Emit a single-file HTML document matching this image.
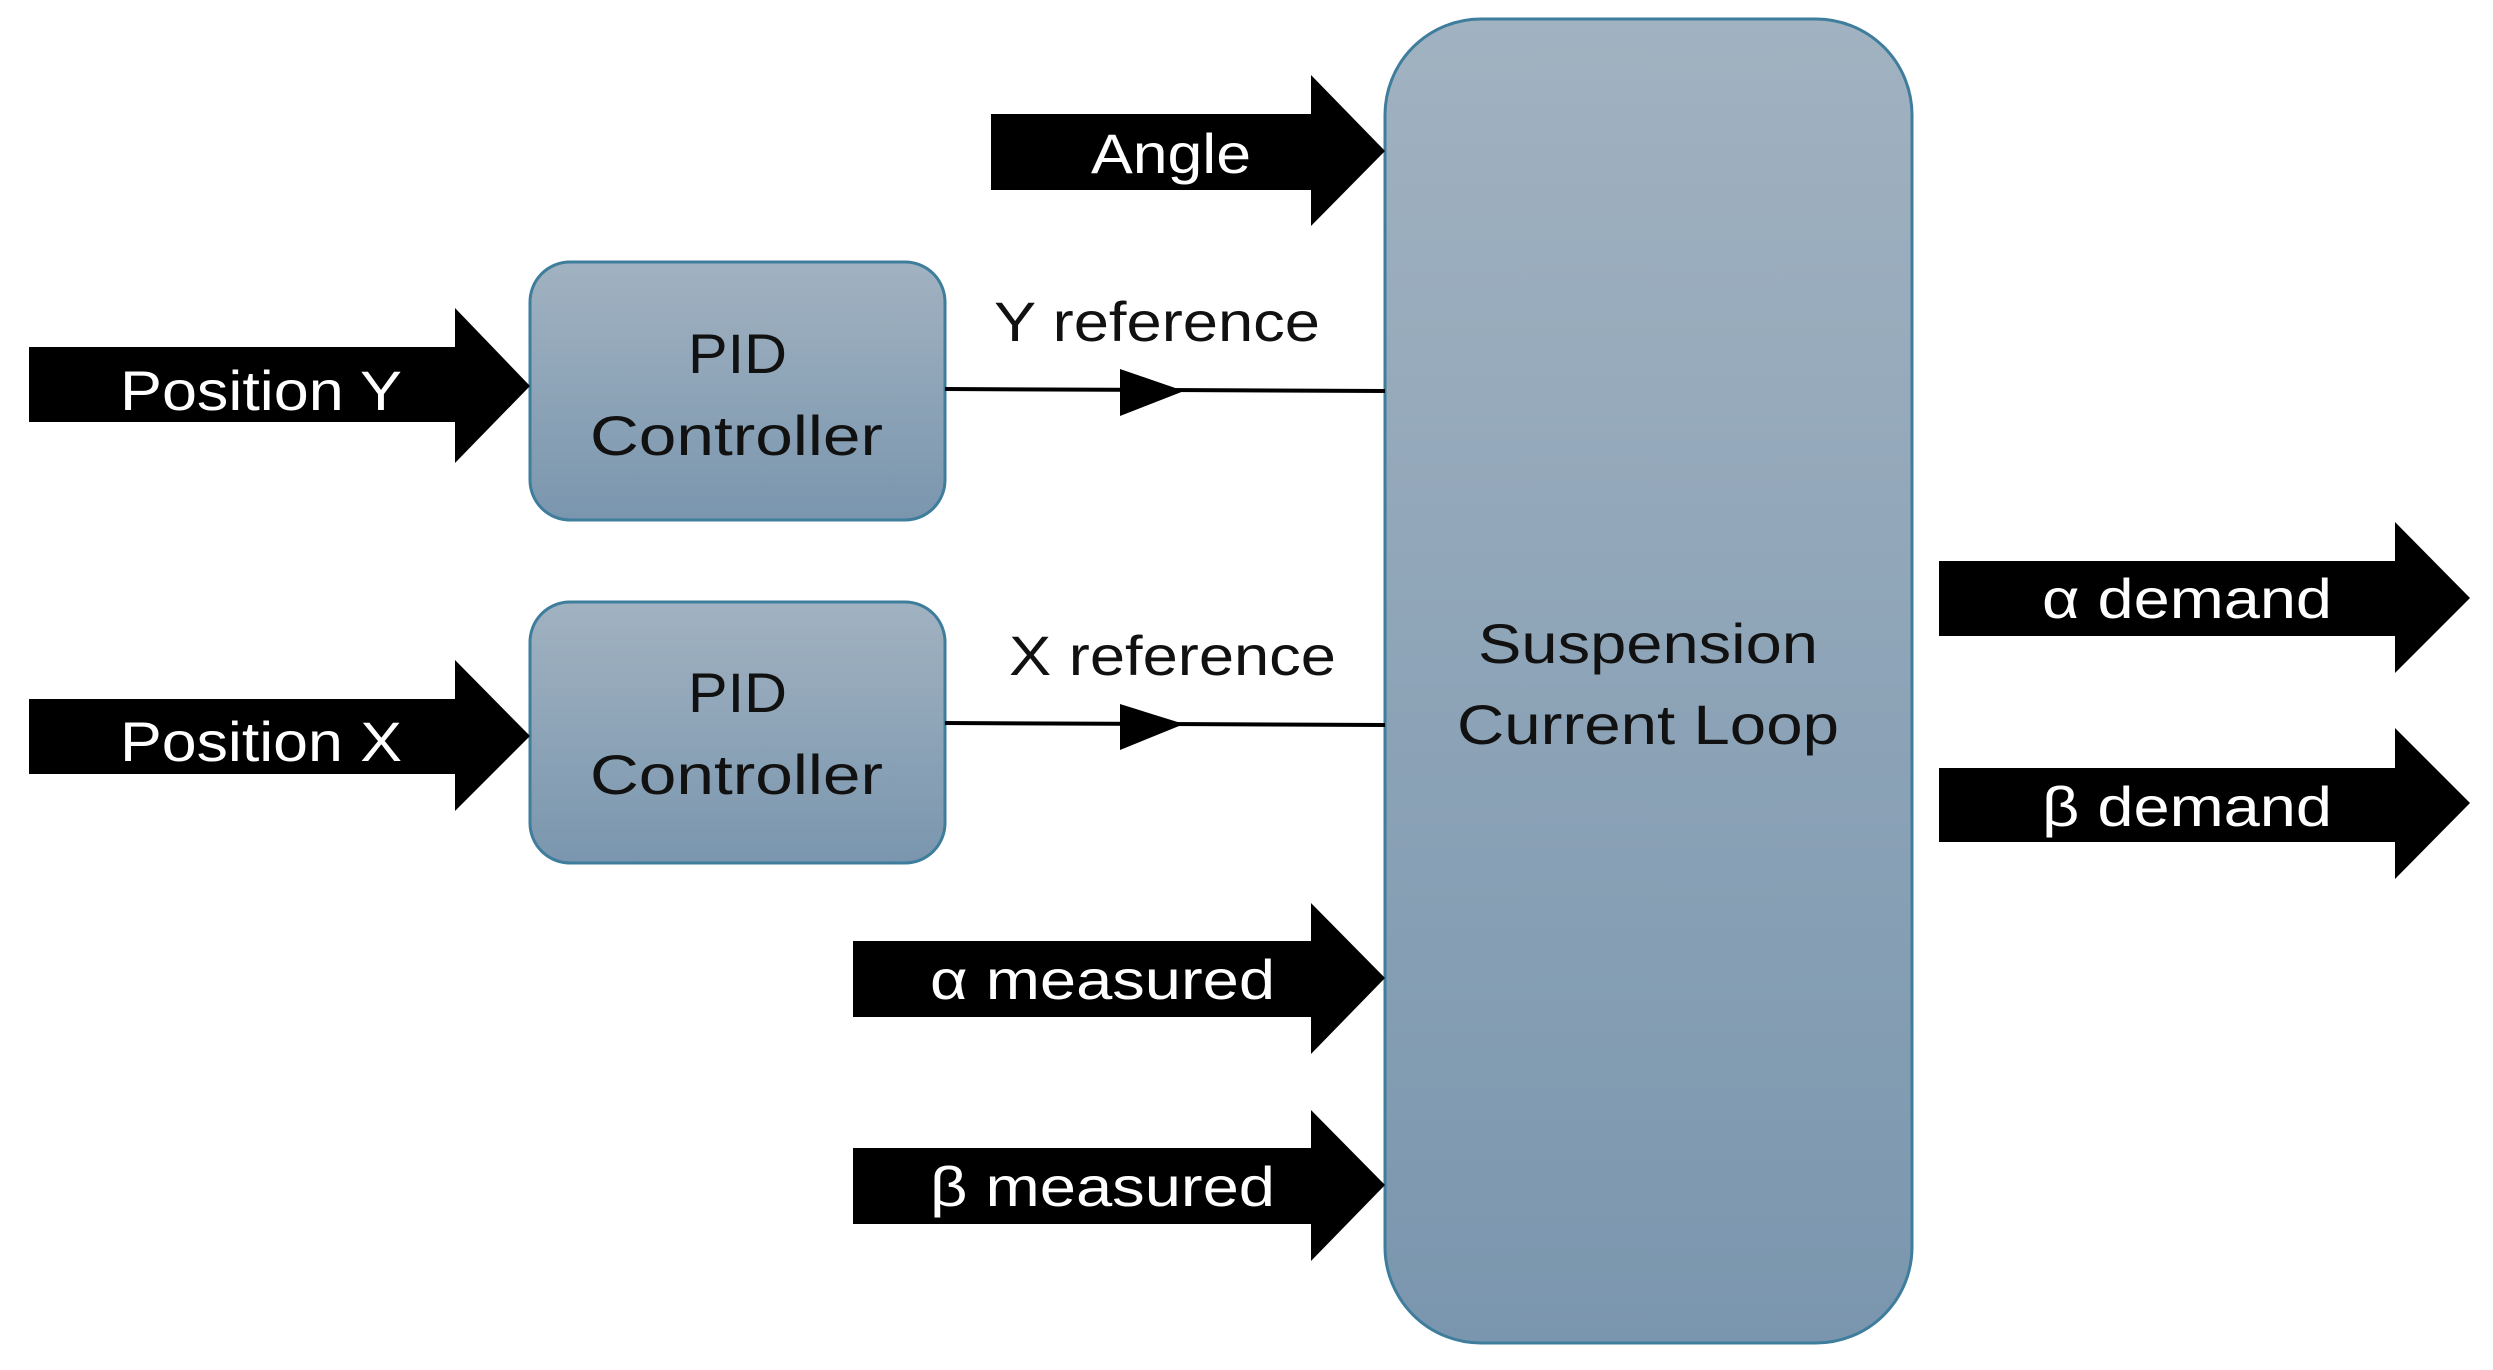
<!DOCTYPE html>
<html><head><meta charset="utf-8"><style>html,body{margin:0;padding:0;background:#fff}svg{display:block}</style></head>
<body>
<svg width="2493" height="1370" viewBox="0 0 2493 1370" xmlns="http://www.w3.org/2000/svg" font-family="'Liberation Sans', sans-serif" font-size="56">
<defs>
<linearGradient id="g" x1="0" y1="0" x2="0" y2="1"><stop offset="0" stop-color="#a1b2c1"/><stop offset="1" stop-color="#7a96ae"/></linearGradient>
</defs>
<rect x="1385" y="19" width="527" height="1324" rx="96" fill="url(#g)" stroke="#3e7d9c" stroke-width="3"/>
<rect x="530" y="262" width="415" height="258" rx="40" fill="url(#g)" stroke="#3e7d9c" stroke-width="3"/>
<rect x="530" y="602" width="415" height="261" rx="40" fill="url(#g)" stroke="#3e7d9c" stroke-width="3"/>
<g fill="#000">
<polygon points="29,347 455,347 455,308 530,386 455,463 455,422 29,422"/>
<polygon points="29,699 455,699 455,660 530,736 455,811 455,774 29,774"/>
<polygon points="991,114 1311,114 1311,75 1385,151 1311,226 1311,190 991,190"/>
<polygon points="853,941 1311,941 1311,903 1385,978 1311,1054 1311,1017 853,1017"/>
<polygon points="853,1148 1311,1148 1311,1110 1385,1185 1311,1261 1311,1224 853,1224"/>
<polygon points="1939,561 2395,561 2395,522 2470,598 2395,673 2395,636 1939,636"/>
<polygon points="1939,768 2395,768 2395,728 2470,803 2395,879 2395,842 1939,842"/>
<polygon points="1120,369 1184,391 1120,416"/>
<polygon points="1120,704 1184,724 1120,750"/>
</g>
<line x1="945" y1="389" x2="1385" y2="391" stroke="#000" stroke-width="4"/>
<line x1="945" y1="723" x2="1385" y2="725" stroke="#000" stroke-width="4"/>
<g fill="#fff">
<text x="1091" y="173" textLength="160" lengthAdjust="spacingAndGlyphs">Angle</text>
<text x="120" y="410" textLength="282" lengthAdjust="spacingAndGlyphs">Position Y</text>
<text x="120" y="761" textLength="282" lengthAdjust="spacingAndGlyphs">Position X</text>
<text x="2042" y="618" textLength="290" lengthAdjust="spacingAndGlyphs">α demand</text>
<text x="2042" y="826" textLength="290" lengthAdjust="spacingAndGlyphs">β demand</text>
<text x="930" y="999" textLength="345" lengthAdjust="spacingAndGlyphs">α measured</text>
<text x="930" y="1206" textLength="345" lengthAdjust="spacingAndGlyphs">β measured</text>
</g>
<g fill="#111">
<text x="688" y="373" textLength="99" lengthAdjust="spacingAndGlyphs">PID</text>
<text x="590" y="455" textLength="293" lengthAdjust="spacingAndGlyphs">Controller</text>
<text x="688" y="712" textLength="99" lengthAdjust="spacingAndGlyphs">PID</text>
<text x="590" y="794" textLength="293" lengthAdjust="spacingAndGlyphs">Controller</text>
<text x="994" y="341" textLength="326" lengthAdjust="spacingAndGlyphs">Y reference</text>
<text x="1009" y="675" textLength="327" lengthAdjust="spacingAndGlyphs">X reference</text>
<text x="1478" y="663" textLength="340" lengthAdjust="spacingAndGlyphs">Suspension</text>
<text x="1457" y="744" textLength="382" lengthAdjust="spacingAndGlyphs">Current Loop</text>
</g>
</svg>
</body></html>
